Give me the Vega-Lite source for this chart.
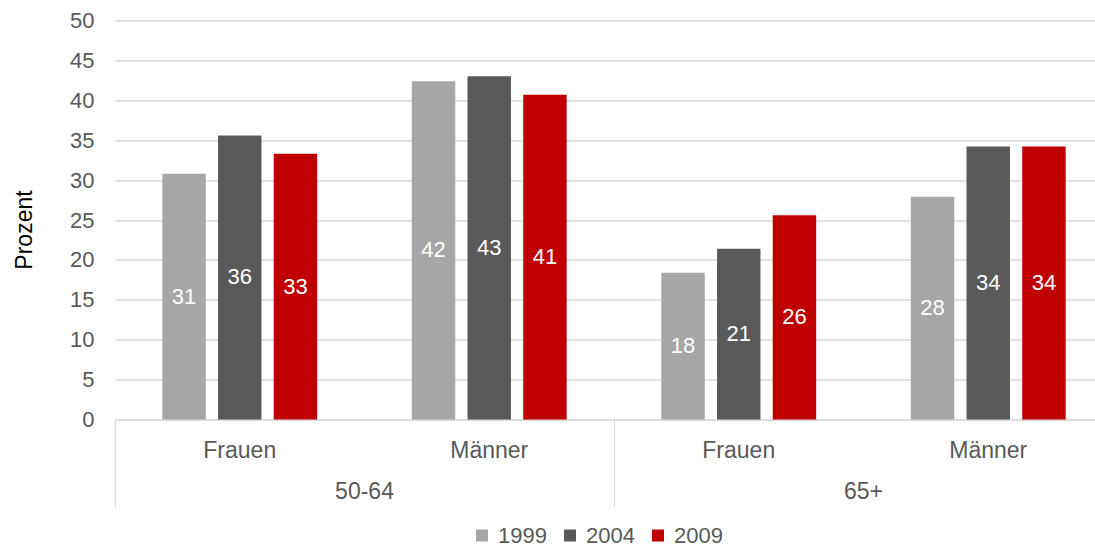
{
  "$schema": "https://vega.github.io/schema/vega-lite/v6.json",
  "autosize": "none",
  "width": 980,
  "height": 399,
  "padding": {"left": 115, "top": 20.5, "right": 0, "bottom": 129.5},
  "config": {
    "font": "Liberation Sans",
    "view": {"stroke": null},
    "legend": {"labelFont": "Liberation Sans"}
  },
  "data": {
    "values": [
      {"gruppe": "50-64 Frauen", "alter": "50-64", "geschlecht": "Frauen", "jahr": "1999", "prozent": 30.8},
      {"gruppe": "50-64 Frauen", "alter": "50-64", "geschlecht": "Frauen", "jahr": "2004", "prozent": 35.6},
      {"gruppe": "50-64 Frauen", "alter": "50-64", "geschlecht": "Frauen", "jahr": "2009", "prozent": 33.3},
      {"gruppe": "50-64 Männer", "alter": "50-64", "geschlecht": "Männer", "jahr": "1999", "prozent": 42.4},
      {"gruppe": "50-64 Männer", "alter": "50-64", "geschlecht": "Männer", "jahr": "2004", "prozent": 43.0},
      {"gruppe": "50-64 Männer", "alter": "50-64", "geschlecht": "Männer", "jahr": "2009", "prozent": 40.7},
      {"gruppe": "65+ Frauen", "alter": "65+", "geschlecht": "Frauen", "jahr": "1999", "prozent": 18.4},
      {"gruppe": "65+ Frauen", "alter": "65+", "geschlecht": "Frauen", "jahr": "2004", "prozent": 21.4},
      {"gruppe": "65+ Frauen", "alter": "65+", "geschlecht": "Frauen", "jahr": "2009", "prozent": 25.6},
      {"gruppe": "65+ Männer", "alter": "65+", "geschlecht": "Männer", "jahr": "1999", "prozent": 27.9},
      {"gruppe": "65+ Männer", "alter": "65+", "geschlecht": "Männer", "jahr": "2004", "prozent": 34.2},
      {"gruppe": "65+ Männer", "alter": "65+", "geschlecht": "Männer", "jahr": "2009", "prozent": 34.2}
    ]
  },
  "layer": [
    {
      "mark": {"type": "bar"},
      "encoding": {
        "x": {
          "field": "gruppe", "type": "nominal", "sort": null,
          "scale": {"type": "band", "range": [0, 998], "paddingInner": 0, "paddingOuter": 0},
          "axis": {
            "orient": "bottom", "title": null, "ticks": false, "domain": true, "domainColor": "#D9D9D9", "domainWidth": 1.3,
            "labelAngle": 0, "labelFontSize": 23, "labelColor": "#595959", "labelPadding": 20,
            "labelExpr": "split(datum.label, ' ')[1]", "grid": false
          }
        },
        "xOffset": {
          "field": "jahr", "type": "nominal", "sort": null,
          "scale": {"type": "band", "paddingInner": 0.22, "paddingOuter": 0.85}
        },
        "y": {
          "field": "prozent", "type": "quantitative",
          "scale": {"domain": [0, 50], "nice": false},
          "axis": {
            "title": "Prozent", "values": [0, 5, 10, 15, 20, 25, 30, 35, 40, 45, 50],
            "grid": true, "gridColor": "#D9D9D9", "gridWidth": 1.3,
            "domain": false, "ticks": false,
            "labelFontSize": 22, "labelColor": "#595959", "labelPadding": 21,
            "titleFontSize": 23, "titleFontWeight": "normal", "titleColor": "#000000",
            "titleX": -79, "titleY": 209
          }
        },
        "color": {
          "field": "jahr", "type": "nominal", "sort": null,
          "scale": {"domain": ["1999", "2004", "2009"], "range": ["#A6A6A6", "#595959", "#C00000"]},
          "legend": {
            "title": null, "orient": "none", "legendX": 356, "legendY": 504, "direction": "horizontal",
            "symbolType": "square", "symbolSize": 144, "symbolStrokeWidth": 0,
            "labelFontSize": 22, "labelColor": "#595959", "labelOffset": 5,
            "columnPadding": 12
          }
        }
      }
    },
    {
      "mark": {"type": "text", "color": "#FFFFFF", "fontSize": 22, "baseline": "middle", "align": "center"},
      "encoding": {
        "x": {
          "field": "gruppe", "type": "nominal", "sort": null,
          "scale": {"type": "band", "range": [0, 998], "paddingInner": 0, "paddingOuter": 0},
          "axis": null
        },
        "xOffset": {
          "field": "jahr", "type": "nominal", "sort": null,
          "scale": {"type": "band", "paddingInner": 0.22, "paddingOuter": 0.85}
        },
        "y": {
          "field": "prozent", "type": "quantitative",
          "scale": {"domain": [0, 100], "nice": false},
          "axis": null
        },
        "text": {"field": "prozent", "type": "quantitative", "format": ".0f"}
      }
    },
    {
      "mark": {"type": "tick", "opacity": 0},
      "encoding": {
        "x": {
          "field": "alter", "type": "nominal", "sort": null,
          "scale": {"type": "band", "range": [0, 998], "paddingInner": 0, "paddingOuter": 0},
          "axis": {
            "orient": "bottom", "title": null, "domain": false, "ticks": true, "tickSize": 87, "tickColor": "#D9D9D9",
            "tickWidth": 1.3, "bandPosition": 0, "labelAngle": 0, "labelFontSize": 23,
            "labelColor": "#595959", "labelPadding": -26, "grid": false
          }
        }
      }
    }
  ],
  "resolve": {"scale": {"x": "independent", "xOffset": "independent", "y": "independent"}}
}
